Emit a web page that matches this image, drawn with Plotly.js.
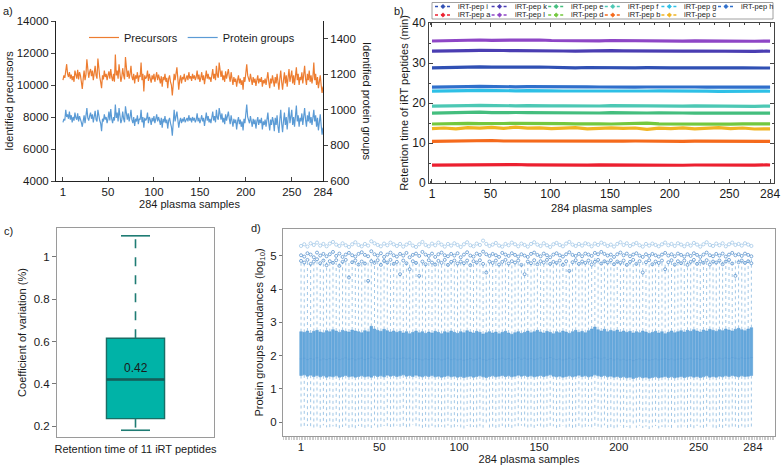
<!DOCTYPE html>
<html><head><meta charset="utf-8">
<script src="https://cdn.plot.ly/plotly-3.0.1.min.js"></script>
<style>html,body{margin:0;padding:0;background:#fff}#chart{width:783px;height:468px}</style>
</head><body><div id="chart"></div>
<script>
// ================= DATA =================
// ---- panel a ----
const aTickVals = [1,50,100,150,200,250,284];
const aTitleX = '284 plasma samples';
const precursors = [
10300,10600,10450,10900,11300,10700,10500,10800,10400,10650,10300,10550,10200,10900,10500,10400,10950,10350,10800,10600,
10200,9750,10400,10900,10300,10650,11600,10700,10450,10800,11000,10550,10900,10300,10700,11200,10600,10400,11650,10900,
10500,10200,9800,10600,10350,10900,10500,10700,10300,10600,10850,10400,11000,10500,10250,10700,10200,11900,10600,10900,
10400,11300,10700,10200,10500,11050,10600,10350,11750,10800,10500,10900,10400,10700,11200,10500,10300,10700,10100,10600,
10400,10800,10200,10600,10500,11400,10300,10700,9600,10600,10400,10500,10900,10250,10700,10400,10150,10600,10350,10700,
10200,10500,10800,10300,10650,10400,10100,10550,9900,10500,10300,10700,10200,10450,9800,10400,10600,10200,10000,9350,
10400,10700,10300,10900,11100,10400,9700,10300,10600,10100,10500,10350,10700,10200,10450,10600,10300,10800,10400,10550,
10250,10700,10400,10600,10300,10500,10900,10350,10650,10200,10450,10800,10300,10600,10050,10500,10900,10400,10700,10350,
10500,10200,10650,11000,10400,10700,10300,11200,10600,10450,11400,10700,10500,10900,10300,10600,10200,10850,10400,10700,
11000,10500,10200,10800,10300,10000,10500,10200,10400,9900,10300,10600,10100,10400,10000,10300,9700,10500,10200,10800,
11300,10600,10400,10200,10700,10300,10000,10500,10150,10400,9950,10300,10600,10100,10400,10200,10500,9900,10300,10100,
10400,10000,10300,10800,10200,9800,10400,10100,10600,10300,9900,10500,10100,10700,10000,9700,10400,10900,10200,9700,
10300,10800,10100,10600,9900,10400,11000,10200,10500,10900,10100,10600,10000,10500,11100,10300,10700,10000,10500,10300,
10800,10100,10600,11200,10400,10000,10700,10300,10900,10200,10600,10100,10500,11400,10300,10700,10000,10500,9800,10300,
10600,10000,9500,9900];
const proteinGroups = [
930,950,940,1000,960,975,950,990,945,970,930,960,940,985,955,945,980,935,965,950,
930,905,945,970,925,960,1010,955,940,965,985,950,975,930,960,995,945,935,1000,965,
940,925,880,950,935,975,945,960,925,950,990,940,1005,950,925,960,940,1030,955,985,
935,1010,960,925,945,990,950,930,1020,965,945,980,935,960,1000,945,925,960,910,950,
935,970,920,950,945,1000,930,960,900,955,940,950,985,925,960,945,915,955,935,965,
925,950,975,935,960,940,915,955,900,950,930,965,925,945,895,940,955,925,905,855,
940,1000,935,975,990,945,900,935,955,925,950,935,960,930,945,955,935,970,940,955,
930,960,940,955,930,945,980,935,955,925,945,970,935,955,910,950,985,940,965,930,
950,925,960,990,940,965,930,1000,955,945,1010,960,945,980,930,955,920,975,940,965,
990,950,920,970,935,905,950,925,945,890,935,960,920,945,905,935,885,950,925,975,
1030,960,945,925,965,935,905,950,920,945,895,935,960,915,945,925,955,890,935,915,
945,905,935,985,925,885,945,915,960,935,880,955,915,970,905,870,945,1000,925,875,
935,985,915,960,890,945,1015,925,955,1000,915,960,905,955,1025,935,970,905,955,935,
980,915,960,1010,945,905,970,935,990,925,960,915,955,1000,935,970,905,955,885,935,
975,915,860,900];

// ---- panel b ----
const bSampleX = [1,11,21,31,41,51,61,71,81,91,101,111,121,131,141,151,161,171,181,191,201,211,221,231,241,251,261,271,281,284];
const bPeptideNames = ['iRT-pep i','iRT-pep k','iRT-pep e','iRT-pep f','iRT-pep g','iRT-pep h','iRT-pep a','iRT-pep l','iRT-pep d','iRT-pep b','iRT-pep c'];
const rtPepA = [4.45,4.50,4.42,4.55,4.60,4.52,4.58,4.62,4.55,4.50,4.48,4.55,4.50,4.45,4.52,4.48,4.55,4.50,4.46,4.52,4.48,4.44,4.50,4.47,4.52,4.45,4.50,4.48,4.52,4.50];
const rtPepB = [10.40,10.45,10.50,10.42,10.55,10.62,10.50,10.48,10.55,10.45,10.50,10.42,10.48,10.45,10.52,10.40,10.46,10.50,10.44,10.42,10.48,10.40,10.45,10.42,10.40,10.46,10.38,10.42,10.45,10.40];
const rtPepC = [13.60,13.75,13.55,13.85,13.70,13.90,13.65,13.95,13.70,13.80,13.60,13.75,13.85,13.55,13.70,13.80,13.65,13.75,13.40,13.70,13.60,13.80,13.55,13.70,13.85,13.60,13.75,13.50,13.65,13.55];
const rtPepD = [14.75,14.85,14.80,14.90,14.85,14.95,14.88,14.92,14.85,14.80,14.88,14.82,14.78,14.85,14.80,14.75,14.82,14.78,14.95,14.80,14.76,14.82,14.78,14.75,14.80,14.72,14.78,14.74,14.80,14.76];
const rtPepE = [17.45,17.55,17.50,17.65,17.70,17.60,17.68,17.62,17.58,17.55,17.60,17.52,17.45,17.55,17.50,17.58,17.52,17.48,17.50,17.55,17.45,17.50,17.48,17.42,17.50,17.45,17.48,17.42,17.50,17.45];
const rtPepF = [19.20,19.30,19.25,19.35,19.40,19.32,19.38,19.30,19.35,19.42,19.30,19.28,19.22,19.30,19.25,19.32,19.28,19.22,19.26,19.30,19.24,19.20,19.26,19.22,19.18,19.24,19.20,19.16,19.22,19.20];
const rtPepG = [22.95,23.05,23.00,23.10,23.15,23.08,23.12,23.05,23.10,23.15,23.05,23.00,22.98,23.05,23.00,23.08,23.02,22.98,23.00,23.05,22.98,22.95,23.00,22.96,22.92,22.98,22.95,22.90,22.96,22.94];
const rtPepH = [23.95,24.05,24.00,24.10,24.15,24.08,24.12,24.05,24.10,24.12,24.05,24.00,23.98,24.05,24.00,24.06,24.02,23.98,24.00,24.04,23.98,23.95,24.00,23.96,23.94,23.98,23.95,23.92,23.98,23.96];
const rtPepI = [28.80,28.90,28.85,29.00,29.05,28.95,29.02,28.92,28.98,29.00,28.90,28.85,28.80,28.88,28.82,28.90,28.85,28.80,28.84,28.90,28.80,28.76,28.82,28.78,28.74,28.80,28.76,28.72,28.78,28.75];
const rtPepK = [32.95,33.05,33.00,33.10,33.15,33.05,33.12,33.08,33.10,33.15,33.05,33.00,32.98,33.05,33.00,33.08,33.02,32.98,33.00,33.04,32.98,32.95,33.00,32.96,32.92,32.98,32.95,32.90,32.96,32.94];
const rtPepL = [35.50,35.60,35.55,35.70,35.75,35.68,35.72,35.65,35.70,35.75,35.62,35.58,35.52,35.60,35.55,35.62,35.58,35.52,35.55,35.60,35.52,35.48,35.55,35.50,35.46,35.52,35.48,35.44,35.50,35.46];

// ---- panel c ----
const cCategory = [0];
const cQ1 = [0.235];
const cMedian = [0.42];
const cQ3 = [0.615];
const cLowerFence = [0.18];
const cUpperFence = [1.10];
const cTickVals = [0.2,0.4,0.6,0.8,1];

// ---- panel d (every second sample: 1,3,...,283) ----
const dQ3 = [
2.72,2.70,2.74,2.68,2.73,2.76,2.71,2.69,2.75,2.72,2.78,2.74,2.70,2.76,2.73,2.71,2.77,2.74,2.72,2.69,
2.75,2.72,2.88,2.80,2.76,2.73,2.79,2.75,2.71,2.74,2.70,2.73,2.68,2.72,2.66,2.70,2.74,2.69,2.72,2.67,
2.71,2.68,2.73,2.70,2.66,2.72,2.69,2.74,2.70,2.67,2.72,2.69,2.75,2.71,2.68,2.73,2.70,2.65,2.69,2.72,
2.68,2.71,2.66,2.70,2.73,2.68,2.64,2.69,2.72,2.67,2.70,2.74,2.69,2.72,2.76,2.71,2.68,2.73,2.70,2.66,
2.72,2.69,2.74,2.71,2.67,2.72,2.76,2.70,2.73,2.69,2.75,2.80,2.86,2.78,2.74,2.79,2.72,2.76,2.73,2.77,
2.71,2.74,2.70,2.73,2.68,2.72,2.69,2.74,2.71,2.67,2.70,2.73,2.68,2.72,2.66,2.70,2.74,2.69,2.72,2.75,
2.71,2.76,2.73,2.78,2.74,2.71,2.77,2.74,2.79,2.76,2.73,2.78,2.75,2.80,2.77,2.74,2.79,2.82,2.78,2.75,
2.80,2.84];
const dQ1 = [
1.40,1.42,1.38,1.41,1.37,1.40,1.36,1.39,1.35,1.38,1.36,1.39,1.35,1.37,1.40,1.36,1.38,1.35,1.37,1.39,
1.36,1.38,1.35,1.40,1.37,1.39,1.36,1.41,1.38,1.40,1.37,1.39,1.42,1.38,1.40,1.37,1.41,1.38,1.36,1.39,
1.37,1.40,1.36,1.38,1.35,1.37,1.39,1.36,1.38,1.35,1.37,1.34,1.36,1.38,1.35,1.37,1.39,1.36,1.34,1.37,
1.39,1.36,1.38,1.40,1.37,1.39,1.36,1.38,1.41,1.38,1.40,1.37,1.39,1.36,1.38,1.40,1.37,1.39,1.42,1.38,
1.36,1.38,1.35,1.37,1.39,1.36,1.38,1.41,1.37,1.39,1.36,1.38,1.42,1.39,1.37,1.40,1.36,1.38,1.35,1.37,
1.34,1.36,1.33,1.35,1.31,1.34,1.36,1.33,1.35,1.32,1.34,1.36,1.33,1.35,1.37,1.34,1.36,1.33,1.35,1.37,
1.34,1.36,1.38,1.35,1.37,1.34,1.36,1.39,1.35,1.37,1.35,1.38,1.36,1.39,1.37,1.40,1.38,1.36,1.39,1.37,
1.38,1.40];
const dMedian = [
1.90,1.92,1.88,1.91,1.89,1.93,1.87,1.90,1.88,1.91,1.89,1.92,1.88,1.90,1.93,1.89,1.91,1.87,1.90,1.92,
1.88,1.91,1.95,1.92,1.89,1.91,1.88,1.93,1.90,1.92,1.89,1.91,1.93,1.90,1.92,1.88,1.91,1.89,1.87,1.90,
1.88,1.91,1.89,1.90,1.87,1.89,1.92,1.88,1.90,1.87,1.89,1.86,1.88,1.91,1.87,1.89,1.92,1.88,1.86,1.89,
1.91,1.88,1.90,1.92,1.89,1.91,1.87,1.90,1.93,1.89,1.92,1.89,1.91,1.88,1.90,1.93,1.89,1.91,1.94,1.90,
1.88,1.90,1.87,1.89,1.92,1.88,1.90,1.93,1.89,1.91,1.89,1.91,1.95,1.92,1.90,1.93,1.88,1.91,1.87,1.90,
1.87,1.89,1.86,1.88,1.85,1.88,1.90,1.87,1.89,1.86,1.88,1.90,1.87,1.89,1.91,1.88,1.90,1.87,1.89,1.91,
1.88,1.90,1.92,1.89,1.91,1.88,1.90,1.93,1.89,1.91,1.89,1.92,1.90,1.93,1.91,1.94,1.92,1.90,1.93,1.91,
1.92,1.94];
const dLowerWhisker = [
-0.15,-0.20,-0.12,-0.18,-0.22,-0.14,-0.19,-0.10,-0.16,-0.21,-0.13,-0.18,-0.24,-0.15,-0.11,-0.19,-0.16,-0.22,-0.12,-0.17,
-0.20,-0.14,-0.18,-0.10,-0.23,-0.16,-0.12,-0.19,-0.15,-0.21,-0.11,-0.17,-0.14,-0.20,-0.16,-0.09,-0.18,-0.13,-0.22,-0.15,
-0.19,-0.12,-0.16,-0.21,-0.14,-0.18,-0.11,-0.17,-0.20,-0.13,-0.16,-0.22,-0.12,-0.18,-0.15,-0.20,-0.13,-0.17,-0.10,-0.19,
-0.14,-0.21,-0.16,-0.12,-0.19,-0.15,-0.23,-0.13,-0.18,-0.11,-0.17,-0.20,-0.14,-0.19,-0.12,-0.16,-0.21,-0.15,-0.18,-0.13,
-0.20,-0.15,-0.11,-0.18,-0.14,-0.22,-0.16,-0.12,-0.19,-0.15,-0.13,-0.18,-0.21,-0.14,-0.17,-0.10,-0.19,-0.15,-0.22,-0.16,
-0.12,-0.19,-0.15,-0.20,-0.13,-0.17,-0.11,-0.18,-0.14,-0.21,-0.16,-0.12,-0.19,-0.15,-0.22,-0.14,-0.18,-0.11,-0.17,-0.20,
-0.13,-0.18,-0.15,-0.21,-0.12,-0.16,-0.19,-0.14,-0.10,-0.17,-0.20,-0.15,-0.18,-0.12,-0.16,-0.21,-0.14,-0.19,-0.13,-0.17,
-0.15,-0.18];
const dUpperWhisker = [
4.85,4.80,4.88,4.82,4.78,4.86,4.83,4.90,4.81,4.87,4.84,4.79,4.88,4.82,4.86,4.80,4.85,4.89,4.83,4.78,
4.86,4.82,4.92,4.87,4.81,4.85,4.88,4.83,4.79,4.86,4.82,4.87,4.80,4.85,4.78,4.84,4.88,4.81,4.86,4.80,
4.84,4.79,4.86,4.82,4.77,4.85,4.81,4.87,4.83,4.78,4.85,4.80,4.88,4.83,4.79,4.86,4.82,4.76,4.81,4.85,
4.80,4.84,4.78,4.83,4.87,4.80,4.75,4.82,4.86,4.79,4.83,4.88,4.81,4.85,4.89,4.83,4.79,4.86,4.82,4.78,
4.85,4.81,4.87,4.83,4.79,4.85,4.89,4.82,4.86,4.80,4.88,4.92,4.96,4.90,4.86,4.91,4.84,4.88,4.85,4.89,
4.82,4.86,4.80,4.84,4.78,4.83,4.80,4.86,4.82,4.77,4.81,4.85,4.79,4.84,4.77,4.82,4.86,4.80,4.84,4.88,
4.82,4.88,4.85,4.90,4.86,4.82,4.89,4.85,4.91,4.87,4.84,4.90,4.86,4.92,4.88,4.85,4.91,4.94,4.89,4.86,
4.92,4.95];
const dOutlierTop = [
5.30,5.35,5.28,5.38,5.33,5.40,5.31,5.36,5.29,5.37,5.42,5.34,5.30,5.38,5.32,5.27,5.35,5.41,5.33,5.29,
5.36,5.31,5.44,5.38,5.33,5.29,5.37,5.32,5.40,5.35,5.30,5.36,5.28,5.34,5.39,5.31,5.27,5.35,5.42,5.33,
5.29,5.37,5.32,5.40,5.34,5.28,5.36,5.31,5.38,5.33,5.27,5.35,5.41,5.32,5.29,5.37,5.33,5.46,5.36,5.30,
5.34,5.39,5.31,5.28,5.36,5.32,5.40,5.35,5.29,5.37,5.33,5.28,5.36,5.41,5.34,5.30,5.38,5.32,5.27,5.35,
5.39,5.33,5.29,5.37,5.42,5.34,5.30,5.36,5.31,5.38,5.35,5.29,5.37,5.33,5.40,5.36,5.30,5.34,5.28,5.36,
5.41,5.33,5.38,5.30,5.35,5.39,5.32,5.28,5.36,5.31,5.37,5.33,5.29,5.35,5.40,5.32,5.36,5.30,5.38,5.34,
5.29,5.36,5.31,5.39,5.34,5.28,5.35,5.41,5.33,5.30,5.37,5.32,5.38,5.29,5.35,5.40,5.33,5.36,5.31,5.38,
5.34,5.30];
const dOutlierMid = [
5.02,4.98,5.08,5.04,4.96,5.10,5.01,5.06,4.99,5.05,5.12,5.00,5.07,4.97,5.04,5.09,5.02,4.98,5.06,5.11,
5.03,4.99,5.14,5.05,5.01,5.08,4.97,5.04,5.10,5.02,4.98,5.06,5.01,5.09,4.96,5.03,5.07,5.00,5.12,5.04,
5.00,5.07,4.97,5.05,5.10,5.02,4.99,5.06,5.01,5.08,4.96,5.04,5.11,5.01,4.98,5.07,5.03,5.13,5.05,5.00,
5.06,5.02,4.97,5.09,5.04,5.00,5.08,5.03,4.98,5.05,5.01,4.97,5.06,5.10,5.03,4.99,5.07,5.02,4.96,5.04,
5.08,5.02,4.98,5.05,5.11,5.03,5.00,5.06,4.99,5.07,5.04,5.00,5.09,5.05,5.12,5.06,5.01,5.04,4.97,5.05,
5.10,5.02,5.07,4.99,5.04,5.08,5.01,4.97,5.05,5.00,5.06,5.02,4.98,5.04,5.09,5.01,5.05,4.99,5.07,5.03,
4.98,5.05,5.00,5.08,5.03,4.97,5.04,5.10,5.02,4.99,5.06,5.01,5.07,4.98,5.04,5.09,5.02,5.05,5.00,5.07,
5.03,4.99];
const dOutlierLow = [
4.85,4.80,4.88,4.76,4.83,4.90,4.78,4.86,4.72,4.84,4.79,4.87,4.70,4.82,4.88,4.35,4.81,4.86,4.74,4.83,
4.77,4.25,4.84,4.79,4.87,4.73,4.85,4.80,4.88,4.76,4.82,4.45,4.86,4.78,4.60,4.84,4.79,4.40,4.83,4.75,
4.87,4.80,4.74,4.85,4.79,4.88,4.73,4.82,4.86,4.77,4.83,4.78,4.86,4.72,4.84,4.80,4.87,4.76,4.50,4.83,
4.79,4.86,4.74,4.82,4.88,4.77,4.84,4.80,4.86,4.73,4.45,4.83,4.78,4.87,4.75,4.84,4.80,4.88,4.76,4.82,
4.79,4.86,4.73,4.84,4.55,4.81,4.87,4.76,4.83,4.79,4.86,4.74,4.82,4.88,4.77,4.84,4.80,4.87,4.75,4.83,
4.79,4.86,4.73,4.82,4.88,4.76,4.84,4.50,4.81,4.87,4.75,4.83,4.79,4.86,4.60,4.81,4.87,4.74,4.84,4.78,
4.86,4.73,4.82,4.88,4.76,4.84,4.79,4.87,4.74,4.83,4.80,4.86,4.75,4.83,4.88,4.77,4.40,4.81,4.86,4.79,
4.84,4.78];
const dTickVals = [1,50,100,150,200,250,284];

// ================= STYLE =================
const FONT = 'Liberation Sans, Arial, Helvetica, sans-serif';
const W = 783, H = 468;
const px = v => v / W;
const py = v => 1 - v / H;
const pepColors = {
  'iRT-pep i':'#3050B4','iRT-pep k':'#4A3DB2','iRT-pep e':'#44BE7E','iRT-pep f':'#4CC8B4',
  'iRT-pep g':'#2EC0E6','iRT-pep h':'#2F6FCB','iRT-pep a':'#EC2030','iRT-pep l':'#8E46C6',
  'iRT-pep d':'#74C83E','iRT-pep b':'#F56A1C','iRT-pep c':'#F0B422'
};
const pepData = {
  'iRT-pep a':rtPepA,'iRT-pep b':rtPepB,'iRT-pep c':rtPepC,'iRT-pep d':rtPepD,'iRT-pep e':rtPepE,
  'iRT-pep f':rtPepF,'iRT-pep g':rtPepG,'iRT-pep h':rtPepH,'iRT-pep i':rtPepI,'iRT-pep k':rtPepK,'iRT-pep l':rtPepL
};

// ================= TRACES =================
const aSamples = precursors.map((_, i) => i + 1);
const traces = [];
traces.push({type:'scatter', mode:'lines', name:'Precursors', x:aSamples, y:precursors,
  xaxis:'x', yaxis:'y', line:{color:'#ED7D31', width:1.2}, legend:'legend'});
traces.push({type:'scatter', mode:'lines', name:'Protein groups', x:aSamples, y:proteinGroups,
  xaxis:'x', yaxis:'y2', line:{color:'#5B9BD5', width:1.2}, legend:'legend'});

bPeptideNames.forEach(n => {
  traces.push({type:'scatter', mode:'lines', name:n, x:bSampleX, y:pepData[n], xaxis:'x2', yaxis:'y3',
    line:{color:pepColors[n], width:3.2}, showlegend:false});
});

// panel c box + dashed whiskers + thick median
const cBoxHalf = 0.37, cCapHalf = 0.185;
traces.push({type:'box', x:cCategory, q1:cQ1, median:cMedian, q3:cQ3, lowerfence:cQ1, upperfence:cQ3,
  width:2 * cBoxHalf, xaxis:'x3', yaxis:'y4', fillcolor:'#00B3A7', line:{color:'#1A6E66', width:1.4},
  whiskerwidth:0, boxpoints:false, showlegend:false, hoverinfo:'skip'});
traces.push({type:'scatter', mode:'lines', x:[cCategory[0]-cBoxHalf, cCategory[0]+cBoxHalf], y:[cMedian[0], cMedian[0]],
  xaxis:'x3', yaxis:'y4', line:{color:'#155E58', width:2.6}, showlegend:false, hoverinfo:'skip'});
traces.push({type:'scatter', mode:'lines', x:[cCategory[0], cCategory[0], null, cCategory[0], cCategory[0]],
  y:[cQ3[0], cUpperFence[0], null, cQ1[0], cLowerFence[0]], xaxis:'x3', yaxis:'y4',
  line:{color:'#1F7C74', width:1.6, dash:'dash'}, showlegend:false, hoverinfo:'skip'});
traces.push({type:'scatter', mode:'lines', x:[cCategory[0]-cCapHalf, cCategory[0]+cCapHalf, null, cCategory[0]-cCapHalf, cCategory[0]+cCapHalf],
  y:[cUpperFence[0], cUpperFence[0], null, cLowerFence[0], cLowerFence[0]], xaxis:'x3', yaxis:'y4',
  line:{color:'#1F7C74', width:1.6}, showlegend:false, hoverinfo:'skip'});

// panel d
const dSamples = dQ3.map((_, i) => 1 + 2 * i);
const wx = [], wy = [];
dSamples.forEach((s, i) => {
  wx.push(s, s, null, s, s, null);
  wy.push(dQ3[i], dUpperWhisker[i], null, dQ1[i], dLowerWhisker[i], null);
});
traces.push({type:'scatter', mode:'lines', x:wx, y:wy, xaxis:'x4', yaxis:'y5',
  line:{color:'rgba(130,180,222,0.75)', width:1, dash:'dot'}, showlegend:false, hoverinfo:'skip'});
traces.push({type:'box', x:dSamples, q1:dQ1, median:dMedian, q3:dQ3, lowerfence:dQ1, upperfence:dQ3,
  width:1.6, xaxis:'x4', yaxis:'y5', fillcolor:'#66A9DC', line:{color:'#5A9ED6', width:0.6},
  whiskerwidth:0, boxpoints:false, showlegend:false, hoverinfo:'skip'});
traces.push({type:'scatter', mode:'markers', x:dSamples, y:dOutlierTop, xaxis:'x4', yaxis:'y5',
  marker:{symbol:'circle-open', size:3.2, color:'rgba(130,180,222,0.8)', line:{width:0.7}},
  showlegend:false, hoverinfo:'skip'});
const ox = [], oy = [];
dSamples.forEach((s, i) => { ox.push(s, s); oy.push(dOutlierMid[i], dOutlierLow[i]); });
traces.push({type:'scatter', mode:'markers', x:ox, y:oy, xaxis:'x4', yaxis:'y5',
  marker:{symbol:'circle-open', size:3, color:'rgba(55,125,195,0.8)', line:{width:0.8}},
  showlegend:false, hoverinfo:'skip'});

// ================= LAYOUT =================
const tickFontA = {size:11.5, color:'#1a1a1a'};
const titleFont = {size:11, color:'#1a1a1a'};
const shapes = [], annotations = [];

// custom legend for panel b (2 rows x 6 columns)
shapes.push({type:'rect', xref:'paper', yref:'paper', x0:px(432), x1:px(773), y0:py(19), y1:py(2.5),
  line:{color:'#888', width:0.8}, fillcolor:'#fff', layer:'above'});
bPeptideNames.forEach((n, k) => {
  const col = k % 6, row = Math.floor(k / 6);
  const x0 = 435 + col * 56.6, yy = 6.5 + row * 8.5;
  shapes.push({type:'line', xref:'paper', yref:'paper', x0:px(x0), x1:px(x0 + 16), y0:py(yy), y1:py(yy),
    line:{color:pepColors[n], width:1.3, dash:'dot'}, layer:'above'});
  shapes.push({type:'path', xref:'paper', yref:'paper', xsizemode:'pixel', ysizemode:'pixel',
    xanchor:px(x0 + 8), yanchor:py(yy), path:'M -2.2,0 L 0,2.2 L 2.2,0 L 0,-2.2 Z',
    fillcolor:pepColors[n], line:{color:pepColors[n], width:0.5}, layer:'above'});
  annotations.push({xref:'paper', yref:'paper', x:px(x0 + 21), y:py(yy), xanchor:'left', yanchor:'middle',
    text:n, showarrow:false, font:{size:7.5, color:'#222'}});
});

// panel labels
[['a)',1,11],['b)',392,11],['c)',2,231],['d)',249,228]].forEach(([t,x,y]) => {
  annotations.push({xref:'paper', yref:'paper', x:px(x), y:py(y), xanchor:'left', yanchor:'middle',
    text:t, showarrow:false, font:{size:11, color:'#1a1a1a'}});
});
// right title of panel a (reads top to bottom)
annotations.push({xref:'paper', yref:'paper', x:px(367), y:py(101), xanchor:'center', yanchor:'middle',
  text:'Identified protein groups', textangle:90, showarrow:false, font:titleFont});
// median label panel c
annotations.push({xref:'x3', yref:'y4', x:cCategory[0], y:cMedian[0], yshift:12, showarrow:false,
  text:cMedian[0].toFixed(2), font:{size:12, color:'#1a1a1a'}});

const layout = {
  width:W, height:H, margin:{l:0, r:0, t:0, b:0},
  paper_bgcolor:'#fff', plot_bgcolor:'rgba(0,0,0,0)',
  font:{family:FONT, size:11, color:'#1a1a1a'},
  showlegend:true,
  legend:{orientation:'h', x:px(84), y:py(23), xanchor:'left', yanchor:'top', font:{size:11},
    bgcolor:'rgba(0,0,0,0)', itemwidth:30, traceorder:'normal'},
  // panel a
  xaxis:{domain:[px(56), px(323)], anchor:'y', range:[-6.6, 284], tickvals:aTickVals, ticks:'inside', ticklen:4,
    showline:true, linecolor:'#222', linewidth:1, showgrid:false, zeroline:false, tickfont:tickFontA,
    title:{text:aTitleX, font:titleFont, standoff:3}},
  yaxis:{domain:[py(181), py(21)], anchor:'x', range:[4000, 14000], dtick:2000, tickformat:'d', ticks:'outside', ticklen:4,
    showline:true, linecolor:'#222', showgrid:false, zeroline:false, tickfont:tickFontA,
    title:{text:'Identified precursors', font:titleFont, standoff:0}},
  yaxis2:{overlaying:'y', side:'right', anchor:'x', range:[600, 1500], tickvals:[600,800,1000,1200,1400], tickformat:'d',
    ticks:'outside', ticklen:4, showline:true, linecolor:'#222', showgrid:false, zeroline:false, tickfont:tickFontA},
  // panel b
  xaxis2:{domain:[px(429), px(774)], anchor:'y3', range:[-1.5, 287.3], tickvals:aTickVals, ticks:'inside', ticklen:4,
    minor:{dtick:12.5, tick0:0, ticks:'inside', ticklen:2}, mirror:'ticks',
    showline:true, linecolor:'#444', showgrid:false, zeroline:false, tickfont:{size:12, color:'#1a1a1a'},
    title:{text:'284 plasma samples', font:titleFont, standoff:3}},
  yaxis3:{domain:[py(183), py(23)], anchor:'x2', range:[0, 40], dtick:10, ticks:'inside', ticklen:4,
    minor:{dtick:5, ticks:'inside', ticklen:2}, mirror:'ticks',
    showline:true, linecolor:'#444', showgrid:false, zeroline:false, tickfont:{size:12, color:'#1a1a1a'},
    title:{text:'Retention time of iRT peptides (min)', font:titleFont, standoff:1}},
  // panel c
  xaxis3:{domain:[px(57), px(214)], anchor:'y4', range:[-1, 1], showticklabels:false, ticks:'',
    showline:true, mirror:true, linecolor:'#9a9a9a', showgrid:false, zeroline:false,
    title:{text:'Retention time of 11 iRT peptides', font:titleFont, standoff:8}},
  yaxis4:{domain:[py(437), py(228)], anchor:'x3', range:[0.148, 1.137], tickvals:cTickVals,
    ticktext:cTickVals.map(String), ticks:'outside', ticklen:4, tickcolor:'#777',
    showline:true, mirror:true, linecolor:'#9a9a9a', showgrid:false, zeroline:false,
    tickfont:{size:11.5, color:'#1a1a1a'}, title:{text:'Coefficient of variation (%)', font:titleFont, standoff:4}},
  // panel d
  xaxis4:{domain:[px(283), px(775)], anchor:'y5', range:[-10.3, 297.8], tickvals:dTickVals, ticks:'',
    minor:{dtick:1, tick0:0, ticks:'outside', ticklen:3, tickcolor:'#999', tickwidth:0.5},
    showline:true, mirror:true, linecolor:'#9a9a9a', showgrid:false, zeroline:false,
    tickfont:{size:11.5, color:'#1a1a1a'}, title:{text:'284 plasma samples', font:titleFont, standoff:1}},
  yaxis5:{domain:[py(436), py(229)], anchor:'x4', range:[-0.42, 5.81], dtick:1, tick0:0, ticks:'outside', ticklen:3,
    tickcolor:'#777', showline:true, mirror:true, linecolor:'#9a9a9a', showgrid:false, zeroline:false,
    tickfont:{size:11.5, color:'#1a1a1a'},
    title:{text:'Protein groups abundances (log<sub>10</sub>)', font:titleFont, standoff:4}},
  shapes:shapes, annotations:annotations
};

Plotly.newPlot('chart', traces, layout, {staticPlot:true, displayModeBar:false});
</script>
</body></html>
